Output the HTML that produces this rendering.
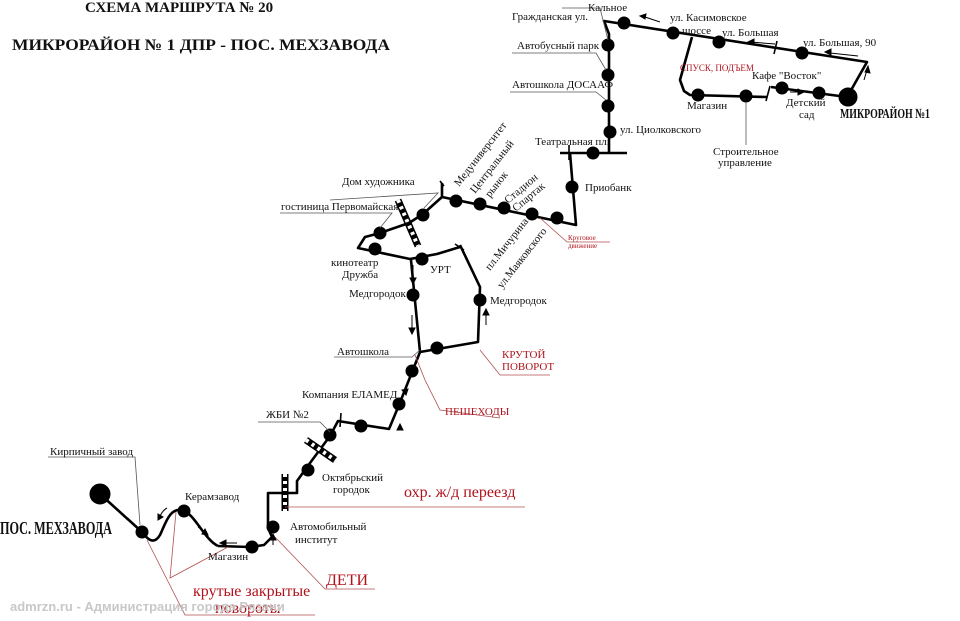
<!DOCTYPE html>
<html><head><meta charset="utf-8"><style>
html,body{margin:0;padding:0;background:#fff;width:960px;height:621px;overflow:hidden}
svg{display:block}
text{font-family:"Liberation Serif","DejaVu Serif",serif;fill:#111}
.s{font-size:11px}
.r{fill:#b0121b}
</style></head><body>
<svg width="960" height="621" viewBox="0 0 960 621" xmlns="http://www.w3.org/2000/svg">
<text x="85" y="12" font-size="15" font-weight="bold">СХЕМА МАРШРУТА № 20</text>
<text x="12" y="50" font-size="16" font-weight="bold" textLength="378" lengthAdjust="spacingAndGlyphs">МИКРОРАЙОН № 1 ДПР - ПОС. МЕХЗАВОДА</text>

<g fill="none" stroke="#000" stroke-width="2.6" stroke-linejoin="round">
<polyline points="609,152 609,34 604,21 867,62 850,92"/>
<polyline points="692,37 680,80 684,91 690,95 767,97"/>
<polyline points="771,87 847,97"/>
<line x1="560" y1="153" x2="627" y2="153"/>
<polyline points="570,153 576,225 442,197 442,183"/>
<polyline points="442,197 423,214 409,223 380,233 365,237 358,248 410,259 437,254 460,247"/>
<polyline points="460,245 480,287 478,342 420,352"/>
<polyline points="411,260 420,352 399,405 389,429 338,421 330,436 310,463 297,481 297,493 268,493 268,528 272,537 264,545 250,547 218,546"/>
<path d="M218,546 C205,540 195,515 184,511 C170,505 165,525 160,535 C154,545 148,540 142,532 L100,494"/>
</g>
<g stroke="#000" stroke-width="1.6">
<line x1="777" y1="41" x2="774" y2="54"/>
<line x1="770" y1="86" x2="766" y2="101"/>
<line x1="569" y1="145" x2="569" y2="160"/>
<line x1="440" y1="181" x2="444" y2="186"/>
<line x1="455" y1="244" x2="464" y2="250"/>
<line x1="341" y1="413" x2="340" y2="427"/>
</g>
<g>
<line x1="398" y1="200" x2="418" y2="246" stroke="#000" stroke-width="7"/>
<line x1="398" y1="200" x2="418" y2="246" stroke="#fff" stroke-width="4" stroke-dasharray="3,4"/>
<line x1="306" y1="440" x2="335" y2="460" stroke="#000" stroke-width="7"/>
<line x1="306" y1="440" x2="335" y2="460" stroke="#fff" stroke-width="4" stroke-dasharray="3,4"/>
<line x1="285" y1="474" x2="285" y2="511" stroke="#000" stroke-width="7"/>
<line x1="285" y1="474" x2="285" y2="511" stroke="#fff" stroke-width="4" stroke-dasharray="3,4"/>
</g>
<g fill="#000" stroke="#000" stroke-width="1">
<circle cx="624" cy="23" r="6"/><circle cx="673" cy="33" r="6"/><circle cx="719" cy="42" r="6"/><circle cx="802" cy="53" r="6"/>
<circle cx="698" cy="95" r="6"/><circle cx="746" cy="96" r="6"/><circle cx="782" cy="88" r="6"/><circle cx="819" cy="93" r="6"/>
<circle cx="848" cy="97" r="9"/>
<circle cx="608" cy="45" r="6"/><circle cx="608" cy="75" r="6"/><circle cx="608" cy="106" r="6"/><circle cx="610" cy="132" r="6"/>
<circle cx="593" cy="153" r="6"/><circle cx="572" cy="187" r="6"/>
<circle cx="557" cy="218" r="6"/><circle cx="532" cy="214" r="6"/><circle cx="504" cy="208" r="6"/><circle cx="480" cy="204" r="6"/><circle cx="456" cy="201" r="6"/>
<circle cx="423" cy="215" r="6"/><circle cx="380" cy="233" r="6"/><circle cx="375" cy="249" r="6"/><circle cx="422" cy="259" r="6"/>
<circle cx="413" cy="295" r="6"/><circle cx="480" cy="300" r="6"/><circle cx="437" cy="348" r="6"/>
<circle cx="412" cy="371" r="6"/><circle cx="399" cy="404" r="6"/><circle cx="361" cy="426" r="6"/><circle cx="330" cy="435" r="6"/>
<circle cx="308" cy="470" r="6"/><circle cx="273" cy="527" r="6"/><circle cx="252" cy="547" r="6"/><circle cx="184" cy="511" r="6"/><circle cx="142" cy="532" r="6"/>
<circle cx="100" cy="494" r="10"/>
</g>
<g stroke="#555" stroke-width="0.8" fill="none">
<polyline points="562,8 600,8 608,40"/>
<polyline points="512,53 596,53 606,70"/>
<polyline points="510,92 596,92 606,100"/>
<polyline points="330,200 438,193 424,208"/>
<polyline points="280,213 392,213 380,228"/>
<polyline points="334,357 412,357 420,350"/>
<polyline points="258,422 320,422 330,432"/>
<polyline points="48,457 135,457 140,525"/>
<line x1="746" y1="102" x2="746" y2="145"/>
</g>
<g stroke="#b05050" stroke-width="0.8" fill="none">
<polyline points="540,218 567,242 610,242"/>
<polyline points="480,350 500,375 550,375"/>
<polyline points="415,355 425,380 440,410 500,418"/>
<line x1="285" y1="507" x2="525" y2="507"/>
<polyline points="275,537 325,589 375,589"/>
<polyline points="147,540 185,615 315,615"/>
<polyline points="176,512 170,578 228,547"/>
</g>
<g stroke="#000" stroke-width="1" fill="#000">
<line x1="645" y1="17" x2="660" y2="22"/><path d="M640,16 l6,-2 l-1,5z"/>
<line x1="750" y1="42" x2="775" y2="44"/><path d="M748,42 l6,-3 l0,6z"/>
<line x1="830" y1="53" x2="858" y2="56"/><path d="M825,52 l6,-3 l0,6z"/>
<line x1="864" y1="80" x2="867" y2="70"/><path d="M868,66 l2,7 l-5,-1z"/>
<line x1="790" y1="92" x2="800" y2="92"/><path d="M804,92 l-6,-3 l0,6z"/>
<line x1="413" y1="265" x2="413" y2="280"/><path d="M413,284 l-3,-6 l6,0z"/>
<line x1="412" y1="315" x2="412" y2="330"/><path d="M412,334 l-3,-6 l6,0z"/>
<path d="M486,309 l-3,6 l6,0z"/><line x1="486" y1="314" x2="486" y2="325"/>
<path d="M406,395 l-4,-5 l6,-1z"/>
<path d="M400,424 l-3,6 l6,0z"/>
<line x1="273" y1="538" x2="273" y2="545"/><path d="M273,534 l-3,6 l6,0z"/>
<line x1="237" y1="543" x2="225" y2="543"/><path d="M220,543 l6,-3 l0,6z"/>
<line x1="198" y1="527" x2="205" y2="532"/><path d="M208,535 l-6,-1 l3,-5z"/>
<path d="M167,508 q-4,2 -7,8" fill="none"/><path d="M158,520 l0,-6 l5,3z"/>
</g>

<g class="s">
<text x="588" y="11">Кальное</text>
<text x="512" y="20">Гражданская ул.</text>
<text x="517" y="49">Автобусный парк</text>
<text x="512" y="88">Автошкола ДОСААФ</text>
<text x="620" y="133">ул. Циолковского</text>
<text x="535" y="145">Театральная пл.</text>
<text x="585" y="191">Приобанк</text>
<text x="670" y="21">ул. Касимовское</text>
<text x="682" y="34">шоссе</text>
<text x="722" y="36">ул. Большая</text>
<text x="803" y="46">ул. Большая, 90</text>
<text x="752" y="79">Кафе "Восток"</text>
<text x="687" y="109">Магазин</text>
<text x="786" y="106">Детский</text>
<text x="799" y="118">сад</text>
<text x="713" y="155">Строительное</text>
<text x="718" y="166">управление</text>
<text x="342" y="185">Дом художника</text>
<text x="281" y="210">гостиница Первомайская</text>
<text x="331" y="266">кинотеатр</text>
<text x="342" y="278">Дружба</text>
<text x="430" y="273">УРТ</text>
<text x="349" y="297">Медгородок</text>
<text x="490" y="304">Медгородок</text>
<text x="337" y="355">Автошкола</text>
<text x="302" y="398">Компания ЕЛАМЕД</text>
<text x="266" y="418">ЖБИ №2</text>
<text x="50" y="455">Кирпичный завод</text>
<text x="322" y="481">Октябрьский</text>
<text x="333" y="493">городок</text>
<text x="185" y="500">Керамзавод</text>
<text x="290" y="530">Автомобильный</text>
<text x="295" y="543">институт</text>
<text x="208" y="560">Магазин</text>
<text transform="translate(459,187) rotate(-52)">Медуниверситет</text>
<text transform="translate(475,194) rotate(-52)">Центральный</text>
<text transform="translate(490,198) rotate(-52)">рынок</text>
<text transform="translate(508,204) rotate(-40)">Стадион</text>
<text transform="translate(516,212) rotate(-40)">Спартак</text>
<text transform="translate(490,271) rotate(-52)">пл.Мичурина</text>
<text transform="translate(502,289) rotate(-52)">ул.Маяковского</text>
</g>
<text x="680" y="71" font-size="9" class="r">СПУСК, ПОДЪЕМ</text>
<text x="568" y="240" font-size="7" class="r">Круговое</text>
<text x="568" y="248" font-size="7" class="r">движение</text>
<text x="502" y="358" font-size="11" class="r">КРУТОЙ</text>
<text x="502" y="370" font-size="11" class="r">ПОВОРОТ</text>
<text x="445" y="415" font-size="11" class="r">ПЕШЕХОДЫ</text>
<text x="404" y="497" font-size="16" class="r">охр. ж/д переезд</text>
<text x="326" y="585" font-size="16" class="r">ДЕТИ</text>
<text x="193" y="596" font-size="16" class="r">крутые закрытые</text>
<text x="215" y="613" font-size="16" class="r">повороты</text>
<text x="840" y="118" font-size="14" font-weight="bold" textLength="90" lengthAdjust="spacingAndGlyphs">МИКРОРАЙОН №1</text>
<text x="0" y="534" font-size="18" font-weight="bold" textLength="112" lengthAdjust="spacingAndGlyphs">ПОС. МЕХЗАВОДА</text>
<text x="10" y="611" font-size="13" font-weight="bold" style="fill:#c8c8c8;font-family:'Liberation Sans',sans-serif">admrzn.ru - Администрация города Рязани</text>
</svg>
</body></html>
